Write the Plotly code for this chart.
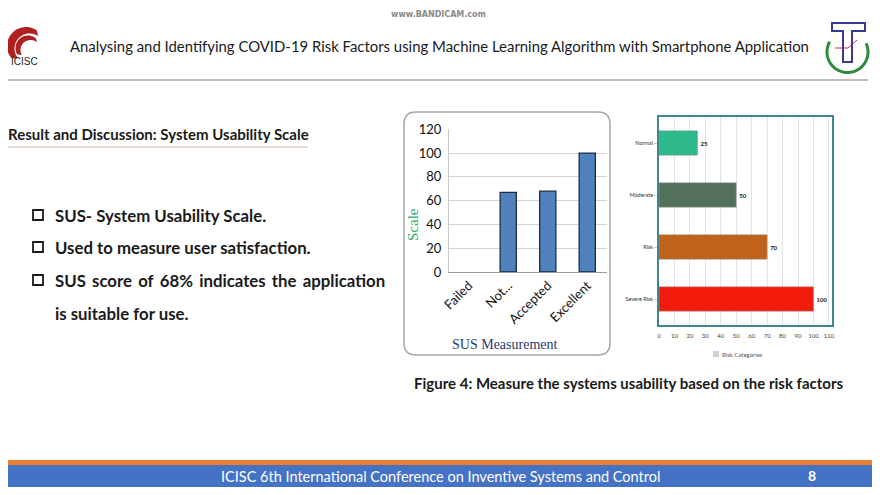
import numpy as np
import plotly.graph_objects as go

# The page is shown with an 8px body margin, so the figure is sized to fit inside it.
OFF = 8
W, H = 880 - 2 * OFF, 495 - 2 * OFF

# ---- data ----
sus_categories = ["Failed", "Not...", "Accepted", "Excellent"]
sus_values = [0, 67, 68, 100]
sus_ticks = [0, 20, 40, 60, 80, 100, 120]

risk_categories = ["Normal", "Moderate", "Risk", "Severe Risk"]
risk_values = [25, 50, 70, 100]
risk_colors = ["#2DB98A", "#53705A", "#C0621A", "#F31B0B"]
risk_ticks = [0, 10, 20, 30, 40, 50, 60, 70, 80, 90, 100, 110]

bullets = ["SUS- System Usability Scale.",
           "Used to measure user satisfaction.",
           "SUS&#8201; score&#8201; of&#8201; 68%&#8201; indicates&#8201; the&#8201; application",
           "is suitable for use."]


def px(x):
    return (x - OFF) / W


def py(y):
    return 1 - (y - OFF) / H


def note(text, x, y, size, family="Lato", color="#1a1a1a", xanchor="center", yanchor="middle", **kw):
    d = dict(text=text, x=px(x), y=py(y), xref="paper", yref="paper", showarrow=False,
             xanchor=xanchor, yanchor=yanchor, font=dict(family=family, size=size, color=color))
    d.update(kw)
    return d


fig = go.Figure()

# SUS chart
fig.add_trace(go.Bar(
    x=sus_categories, y=sus_values, xaxis="x", yaxis="y",
    marker=dict(color="#4F81BD",
                line=dict(color="#1E2B45", width=[0 if v == 0 else 1.3 for v in sus_values])),
    width=0.41, showlegend=False, hoverinfo="skip"))

# Risk chart
fig.add_trace(go.Bar(
    x=risk_values, y=risk_categories, orientation="h", xaxis="x2", yaxis="y2",
    marker=dict(color=risk_colors, line=dict(color="#9a9a9a", width=0.5)),
    width=0.47, text=[f"<b>{v}</b>" for v in risk_values], textposition="outside",
    textfont=dict(family="Lato", size=6, color="#222"),
    cliponaxis=False, showlegend=False, hoverinfo="skip"))

fig.update_layout(
    width=W, height=H, margin=dict(l=0, r=0, t=0, b=0, pad=0, autoexpand=False),
    showlegend=False,
    paper_bgcolor="white", plot_bgcolor="rgba(0,0,0,0)",
    xaxis=dict(domain=[px(449), px(607)], showgrid=False, automargin=False,
               showline=True, linecolor="#9A9A9A", linewidth=1,
               tickangle=-45, ticks="",
               tickfont=dict(family="Lato", size=13, color="#111")),
    yaxis=dict(domain=[py(272), py(129.3)], range=[0, 120], tickvals=sus_ticks, automargin=False,
               showgrid=True, gridcolor="#D4D4D4", gridwidth=1,
               showline=True, linecolor="#C8C8C8", zeroline=False, ticklabelstandoff=4,
               tickfont=dict(family="Lato", size=13, color="#111")),
    xaxis2=dict(domain=[px(659), px(832)], range=[0, 112], tickvals=risk_ticks, automargin=False,
                showgrid=True, gridcolor="#E2E2E2", gridwidth=1, zeroline=False,
                showline=True, mirror=True, linecolor="#3F8596", linewidth=1.5,
                ticks="", ticklabelstandoff=4, tickfont=dict(family="Lato", size=6, color="#444")),
    yaxis2=dict(domain=[py(325), py(117)], automargin=False,
                categoryorder="array", categoryarray=risk_categories, autorange="reversed",
                showline=True, mirror=True, linecolor="#3F8596", linewidth=1.5,
                ticks="outside", ticklen=3, tickcolor="#CCC",
                tickfont=dict(family="Lato", size=5.5, color="#333")),
)
fig.update_layout(xaxis2_anchor="y2", yaxis2_anchor="x2")

shapes = []
annotations = []

# --- header ---
annotations.append(note("<b>www.BANDICAM.com</b>", 438, 15, 8, family="DejaVu Sans", color="#8a8a8a"))
annotations.append(note("Analysing and Identifying COVID-19 Risk Factors using Machine Learning Algorithm with Smartphone Application",
                        439, 46, 14.9))
shapes.append(dict(type="line", xref="paper", yref="paper", x0=px(0), x1=px(868), y0=py(80), y1=py(80),
                   line=dict(color="#A8A8A8", width=1.5)))


def arc_pts(cx, cy, r, a0, a1, n=40):
    a = np.linspace(np.radians(a0), np.radians(a1), n)
    return [(cx + r * np.cos(t), cy - r * np.sin(t)) for t in a]


def poly_path(pts, close=False):
    s = "M " + " L ".join(f"{px(x):.5f},{py(y):.5f}" for x, y in pts)
    return s + (" Z" if close else "")


# left logo crescents
def crescent(c_out, r_out, c_in, r_in, a0, a1):
    outer = arc_pts(c_out[0], c_out[1], r_out, a0, a1)
    inner = arc_pts(c_in[0], c_in[1], r_in, a1, a0)
    return poly_path(outer + inner, close=True)

shapes.append(dict(type="path", xref="paper", yref="paper",
                   path=crescent((26, 46), 19, (29.5, 48.5), 15, 55, 220),
                   fillcolor="#B0201E", line=dict(width=0)))
shapes.append(dict(type="path", xref="paper", yref="paper",
                   path=crescent((28, 48), 12.5, (30.5, 50), 10, 50, 210),
                   fillcolor="#B0201E", line=dict(width=0)))
annotations.append(note("ICISC", 24, 61, 10, family="Liberation Sans", color="#222"))

# right logo
shapes.append(dict(type="path", xref="paper", yref="paper", path=poly_path(arc_pts(847.5, 52, 20.5, 150, 385, 60)),
                   line=dict(color="#2F8A3C", width=3)))
T = [(832, 23), (865, 23), (865, 31), (852, 31), (852, 62), (843, 62), (843, 31), (832, 31)]
shapes.append(dict(type="path", xref="paper", yref="paper", path=poly_path(T, close=True),
                   fillcolor="white", line=dict(color="#3A3A96", width=2)))
shapes.append(dict(type="path", xref="paper", yref="paper",
                   path=poly_path([(835, 48), (848, 48), (857, 40)]),
                   line=dict(color="#C8304A", width=1)))

# --- section heading ---
annotations.append(note("<b>Result and Discussion: System Usability Scale</b>", 6, 134, 15,
                        xanchor="left"))
shapes.append(dict(type="line", xref="paper", yref="paper", x0=px(0), x1=px(308), y0=py(147), y1=py(147),
                   line=dict(color="#CBB9A6", width=1)))

# bullets
bullet_y = [215, 247, 280, 313]
for i, (txt, yy) in enumerate(zip(bullets, bullet_y)):
    annotations.append(note(f"<b>{txt}</b>", 53, yy, 16.8, xanchor="left"))
    if i < 3:
        shapes.append(dict(type="rect", xref="paper", yref="paper", x0=px(33), x1=px(43),
                           y0=py(yy + 5), y1=py(yy - 5), line=dict(color="#1a1a1a", width=1.8)))

# left chart rounded frame
x0, x1, y0, y1, r = 404, 610, 112, 355, 12
frame = (f"M {px(x0 + r)},{py(y0)} L {px(x1 - r)},{py(y0)} Q {px(x1)},{py(y0)} {px(x1)},{py(y0 + r)} "
         f"L {px(x1)},{py(y1 - r)} Q {px(x1)},{py(y1)} {px(x1 - r)},{py(y1)} "
         f"L {px(x0 + r)},{py(y1)} Q {px(x0)},{py(y1)} {px(x0)},{py(y1 - r)} "
         f"L {px(x0)},{py(y0 + r)} Q {px(x0)},{py(y0)} {px(x0 + r)},{py(y0)} Z")
shapes.append(dict(type="path", xref="paper", yref="paper", path=frame,
                   line=dict(color="#A6A6A6", width=1.5), layer="below"))

# axis titles of SUS chart
annotations.append(note("Scale", 413, 225, 15, family="Liberation Serif", color="#2EAE6E", textangle=-90))
annotations.append(note("SUS Measurement", 504, 344, 14, family="Liberation Serif", color="#1F3A70"))

# risk legend
shapes.append(dict(type="rect", xref="paper", yref="paper", x0=px(713), x1=px(719), y0=py(357), y1=py(351),
                   fillcolor="#D0D0D0", line=dict(width=0)))
annotations.append(note("Risk Categories", 720, 354, 6, color="#555", xanchor="left"))

# caption
annotations.append(note("<b>Figure 4: Measure the systems usability based on the risk factors</b>",
                        629, 383, 15))

# footer
shapes.append(dict(type="rect", xref="paper", yref="paper", x0=px(0), x1=px(880), y0=py(465), y1=py(460),
                   fillcolor="#ED7D31", line=dict(width=0)))
shapes.append(dict(type="rect", xref="paper", yref="paper", x0=px(0), x1=px(880), y0=py(495), y1=py(465),
                   fillcolor="#4472C4", line=dict(width=0)))
annotations.append(note("ICISC 6th International Conference on Inventive Systems and Control",
                        440, 476.5, 14.5, color="white"))
annotations.append(note("<b>8</b>", 812, 475.5, 14, color="white"))

fig.update_layout(shapes=shapes, annotations=annotations)

fig.write_html("out.html", config={"displayModeBar": False})
